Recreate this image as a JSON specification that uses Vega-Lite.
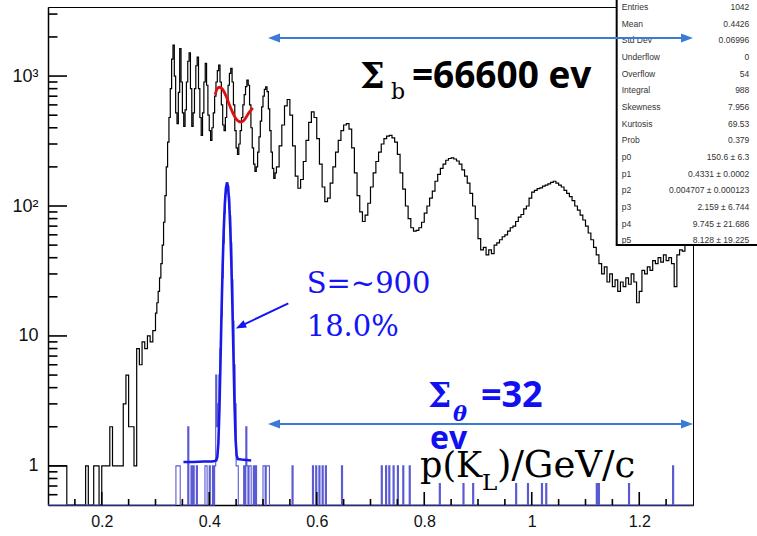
{
  "$schema": "https://vega.github.io/schema/vega-lite/v6.json",
  "width": 645,
  "height": 498,
  "autosize": {"type": "none"},
  "padding": {"left": 48, "top": 7, "right": 64, "bottom": 31},
  "background": "white",
  "config": {
    "view": {"stroke": "black", "strokeWidth": 1},
    "axis": {"grid": false, "title": null, "labelFont": "Liberation Sans", "labelFontSize": 16, "labelColor": "#111111", "tickColor": "black", "domainColor": "black"},
    "tick": {"color": "black", "opacity": 1, "thickness": 1.6}
  },
  "datasets": {
    "bkg": [
      {"x":0.100,"n":1},{"x":0.105,"n":1},{"x":0.110,"n":1},{"x":0.115,"n":1},{"x":0.120,"n":1},{"x":0.125,"n":1},{"x":0.130,"n":1},{"x":0.135,"n":0},
      {"x":0.170,"n":1},{"x":0.175,"n":0},{"x":0.185,"n":1},{"x":0.190,"n":1},{"x":0.195,"n":0},{"x":0.200,"n":1},{"x":0.205,"n":1},{"x":0.210,"n":1},
      {"x":0.215,"n":2},{"x":0.220,"n":1},{"x":0.225,"n":1},{"x":0.230,"n":1},{"x":0.235,"n":1},{"x":0.240,"n":3},{"x":0.245,"n":5},{"x":0.250,"n":2},
      {"x":0.255,"n":2},{"x":0.260,"n":1},{"x":0.265,"n":8},{"x":0.270,"n":6},{"x":0.275,"n":9},{"x":0.280,"n":8},{"x":0.285,"n":10},{"x":0.290,"n":9},{"x":0.295,"n":11},
      {"x":0.3000,"n":15},{"x":0.3025,"n":18},{"x":0.3050,"n":22},{"x":0.3075,"n":28},{"x":0.3100,"n":36},{"x":0.3125,"n":50},{"x":0.3150,"n":75},{"x":0.3175,"n":120},
      {"x":0.3200,"n":200},{"x":0.3225,"n":310},{"x":0.3250,"n":480},{"x":0.3275,"n":800},{"x":0.3300,"n":1350},{"x":0.3325,"n":1730},{"x":0.3350,"n":1000},{"x":0.3375,"n":520},
      {"x":0.3400,"n":430},{"x":0.3425,"n":750},{"x":0.3450,"n":1630},{"x":0.3475,"n":900},{"x":0.3500,"n":520},{"x":0.3525,"n":410},{"x":0.3550,"n":550},{"x":0.3575,"n":900},
      {"x":0.3600,"n":1300},{"x":0.3625,"n":1510},{"x":0.3650,"n":800},{"x":0.3675,"n":410},{"x":0.3700,"n":520},{"x":0.3725,"n":800},{"x":0.3750,"n":1200},{"x":0.3775,"n":1400},
      {"x":0.3800,"n":800},{"x":0.3825,"n":480},{"x":0.3850,"n":350},{"x":0.3875,"n":520},{"x":0.3900,"n":900},{"x":0.3925,"n":1250},{"x":0.3950,"n":850},{"x":0.3975,"n":500},
      {"x":0.4000,"n":380},{"x":0.4025,"n":320},{"x":0.4050,"n":400},{"x":0.4075,"n":520},{"x":0.4100,"n":700},{"x":0.4125,"n":900},{"x":0.4150,"n":1100},{"x":0.4175,"n":1215},
      {"x":0.4200,"n":900},{"x":0.4225,"n":600},{"x":0.4250,"n":420},{"x":0.4275,"n":380},{"x":0.4300,"n":480},{"x":0.4325,"n":650},{"x":0.4350,"n":850},{"x":0.4375,"n":1050},
      {"x":0.4400,"n":1146},{"x":0.4425,"n":900},{"x":0.4450,"n":600},{"x":0.4475,"n":380},{"x":0.4500,"n":280},{"x":0.4525,"n":250},{"x":0.4550,"n":300},{"x":0.4575,"n":380},
      {"x":0.4600,"n":480},{"x":0.4625,"n":600},{"x":0.4650,"n":720},{"x":0.4675,"n":830},{"x":0.4700,"n":930},{"x":0.4725,"n":850},{"x":0.4750,"n":600},{"x":0.4775,"n":400},
      {"x":0.4800,"n":280},{"x":0.4825,"n":210},{"x":0.4850,"n":185},{"x":0.4875,"n":200},{"x":0.4900,"n":260},{"x":0.4925,"n":340},{"x":0.4950,"n":450},{"x":0.4975,"n":580},
      {"x":0.5000,"n":700},{"x":0.5025,"n":790},{"x":0.5050,"n":825},{"x":0.5075,"n":760},{"x":0.5100,"n":560},{"x":0.5125,"n":380},{"x":0.5150,"n":260},{"x":0.5175,"n":195},
      {"x":0.5200,"n":163},{"x":0.5225,"n":180},
      {"x":0.525,"n":200},{"x":0.530,"n":290},{"x":0.535,"n":420},{"x":0.540,"n":590},{"x":0.545,"n":660},{"x":0.550,"n":500},{"x":0.555,"n":290},{"x":0.560,"n":170},
      {"x":0.565,"n":137},{"x":0.570,"n":160},{"x":0.575,"n":220},{"x":0.580,"n":320},{"x":0.585,"n":440},{"x":0.590,"n":530},{"x":0.595,"n":480},{"x":0.600,"n":330},
      {"x":0.605,"n":210},{"x":0.610,"n":140},{"x":0.615,"n":108},{"x":0.620,"n":115},{"x":0.625,"n":150},{"x":0.630,"n":200},{"x":0.635,"n":260},{"x":0.640,"n":320},
      {"x":0.645,"n":380},{"x":0.650,"n":420},{"x":0.655,"n":430},{"x":0.660,"n":390},{"x":0.665,"n":280},{"x":0.670,"n":180},{"x":0.675,"n":120},{"x":0.680,"n":90},
      {"x":0.685,"n":76},{"x":0.690,"n":85},{"x":0.695,"n":105},{"x":0.700,"n":140},{"x":0.705,"n":180},{"x":0.710,"n":220},{"x":0.715,"n":260},{"x":0.720,"n":300},
      {"x":0.725,"n":330},{"x":0.730,"n":345},{"x":0.735,"n":350},{"x":0.740,"n":335},{"x":0.745,"n":310},{"x":0.750,"n":250},{"x":0.755,"n":180},{"x":0.760,"n":135},
      {"x":0.765,"n":100},{"x":0.770,"n":80},{"x":0.775,"n":68},{"x":0.780,"n":64},{"x":0.785,"n":65},{"x":0.790,"n":68},{"x":0.795,"n":75},{"x":0.800,"n":88},
      {"x":0.805,"n":100},{"x":0.810,"n":115},{"x":0.815,"n":130},{"x":0.820,"n":155},{"x":0.825,"n":175},{"x":0.830,"n":195},{"x":0.835,"n":210},{"x":0.840,"n":225},
      {"x":0.845,"n":232},{"x":0.850,"n":235},{"x":0.855,"n":230},{"x":0.860,"n":222},{"x":0.865,"n":210},{"x":0.870,"n":190},{"x":0.875,"n":170},{"x":0.880,"n":150},
      {"x":0.885,"n":125},{"x":0.890,"n":100},{"x":0.895,"n":80},{"x":0.900,"n":56},{"x":0.905,"n":46},{"x":0.910,"n":48},{"x":0.915,"n":42},{"x":0.920,"n":46},
      {"x":0.925,"n":43},{"x":0.930,"n":50},{"x":0.935,"n":52},{"x":0.940,"n":55},{"x":0.945,"n":58},{"x":0.950,"n":60},{"x":0.955,"n":64},{"x":0.960,"n":68},
      {"x":0.965,"n":70},{"x":0.970,"n":76},{"x":0.975,"n":82},{"x":0.980,"n":86},{"x":0.985,"n":95},{"x":0.990,"n":100},{"x":0.995,"n":115},{"x":1.000,"n":128},
      {"x":1.005,"n":132},{"x":1.010,"n":136},{"x":1.015,"n":138},{"x":1.020,"n":142},{"x":1.025,"n":145},{"x":1.030,"n":148},{"x":1.035,"n":152},{"x":1.040,"n":155},
      {"x":1.045,"n":150},{"x":1.050,"n":145},{"x":1.055,"n":140},{"x":1.060,"n":132},{"x":1.065,"n":125},{"x":1.070,"n":118},{"x":1.075,"n":110},{"x":1.080,"n":100},
      {"x":1.085,"n":93},{"x":1.090,"n":85},{"x":1.095,"n":78},{"x":1.100,"n":70},{"x":1.105,"n":62},{"x":1.110,"n":55},{"x":1.115,"n":48},{"x":1.120,"n":42},
      {"x":1.125,"n":36},{"x":1.130,"n":30},{"x":1.135,"n":34},{"x":1.140,"n":26},{"x":1.145,"n":30},{"x":1.150,"n":24},{"x":1.155,"n":27},{"x":1.160,"n":22},
      {"x":1.165,"n":26},{"x":1.170,"n":24},{"x":1.175,"n":28},{"x":1.180,"n":25},{"x":1.185,"n":30},{"x":1.190,"n":26},{"x":1.195,"n":18},{"x":1.200,"n":22},
      {"x":1.205,"n":32},{"x":1.210,"n":30},{"x":1.215,"n":34},{"x":1.220,"n":32},{"x":1.225,"n":38},{"x":1.230,"n":36},{"x":1.235,"n":40},{"x":1.240,"n":37},
      {"x":1.245,"n":42},{"x":1.250,"n":38},{"x":1.255,"n":40},{"x":1.260,"n":36},{"x":1.265,"n":24},{"x":1.270,"n":42},{"x":1.275,"n":46},{"x":1.280,"n":45},
      {"x":1.285,"n":50},{"x":1.290,"n":55},{"x":1.295,"n":60},{"x":1.300,"n":60}
    ],
    "sig": [
      {"x":0.100,"n":0},{"x":0.338,"n":1},{"x":0.346,"n":0},{"x":0.360,"n":2},{"x":0.362,"n":0},{"x":0.366,"n":1},{"x":0.368,"n":0},{"x":0.370,"n":1},{"x":0.372,"n":0},
      {"x":0.376,"n":1},{"x":0.378,"n":0},{"x":0.392,"n":1},{"x":0.396,"n":0},{"x":0.400,"n":1},{"x":0.402,"n":0},{"x":0.406,"n":1},{"x":0.408,"n":0},{"x":0.410,"n":1},
      {"x":0.412,"n":5},{"x":0.414,"n":2},{"x":0.416,"n":3},{"x":0.418,"n":5},{"x":0.420,"n":8},{"x":0.422,"n":14},{"x":0.424,"n":28},{"x":0.426,"n":52},{"x":0.428,"n":88},
      {"x":0.430,"n":125},{"x":0.432,"n":150},{"x":0.434,"n":142},{"x":0.436,"n":118},{"x":0.438,"n":84},{"x":0.440,"n":52},{"x":0.442,"n":27},{"x":0.444,"n":13},{"x":0.446,"n":6},
      {"x":0.448,"n":3},{"x":0.450,"n":1},{"x":0.452,"n":1},{"x":0.454,"n":0},{"x":0.464,"n":1},{"x":0.466,"n":0},{"x":0.468,"n":2},{"x":0.470,"n":1},{"x":0.472,"n":0},
      {"x":0.474,"n":1},{"x":0.476,"n":1},{"x":0.478,"n":0},{"x":0.482,"n":1},{"x":0.484,"n":0},{"x":0.486,"n":1},{"x":0.488,"n":0},{"x":0.500,"n":1},{"x":0.502,"n":1},
      {"x":0.504,"n":0},{"x":0.506,"n":1},{"x":0.508,"n":1},{"x":0.510,"n":1},{"x":0.512,"n":0},{"x":0.554,"n":1},{"x":0.556,"n":0},{"x":0.592,"n":1},{"x":0.594,"n":0},
      {"x":0.598,"n":1},{"x":0.600,"n":0},{"x":0.604,"n":1},{"x":0.606,"n":0},{"x":0.610,"n":1},{"x":0.612,"n":0},{"x":0.616,"n":1},{"x":0.618,"n":0},{"x":0.646,"n":1},
      {"x":0.648,"n":0},{"x":0.720,"n":1},{"x":0.722,"n":0},{"x":0.728,"n":1},{"x":0.730,"n":0},{"x":0.734,"n":1},{"x":0.736,"n":0},{"x":0.742,"n":1},{"x":0.744,"n":0},
      {"x":0.750,"n":1},{"x":0.752,"n":0},{"x":0.760,"n":1},{"x":0.762,"n":0},{"x":0.772,"n":1},{"x":0.774,"n":0},{"x":0.828,"n":1},{"x":0.830,"n":0},{"x":0.872,"n":1},
      {"x":0.874,"n":0},{"x":0.890,"n":1},{"x":0.892,"n":0},{"x":0.970,"n":1},{"x":0.972,"n":0},{"x":0.992,"n":1},{"x":0.994,"n":0},{"x":1.018,"n":1},{"x":1.020,"n":0},
      {"x":1.026,"n":1},{"x":1.028,"n":0},{"x":1.120,"n":1},{"x":1.122,"n":0},{"x":1.124,"n":1},{"x":1.126,"n":0},{"x":1.180,"n":1},{"x":1.182,"n":0},{"x":1.262,"n":1},
      {"x":1.264,"n":0},{"x":1.300,"n":0}
    ],
    "sigfit": [
      {"x":0.352,"f":1.07},{"x":0.370,"f":1.07},{"x":0.390,"f":1.08},{"x":0.405,"f":1.08},{"x":0.410,"f":1.09},{"x":0.413,"f":1.1},{"x":0.415,"f":1.17},
      {"x":0.417,"f":1.5},{"x":0.419,"f":2.8},{"x":0.421,"f":6.6},{"x":0.423,"f":16.2},{"x":0.425,"f":35.4},{"x":0.427,"f":66},{"x":0.429,"f":104},
      {"x":0.431,"f":137},{"x":0.4331,"f":152},{"x":0.435,"f":140},{"x":0.437,"f":108},{"x":0.439,"f":70},{"x":0.441,"f":38},{"x":0.443,"f":17.6},
      {"x":0.445,"f":7.3},{"x":0.447,"f":3.0},{"x":0.449,"f":1.6},{"x":0.451,"f":1.2},{"x":0.453,"f":1.13},{"x":0.460,"f":1.12},{"x":0.478,"f":1.1}
    ],
    "bkgfit": [
      {"x":0.411,"f":720},{"x":0.415,"f":800},{"x":0.419,"f":820},{"x":0.423,"f":805},{"x":0.427,"f":765},{"x":0.431,"f":705},{"x":0.435,"f":640},
      {"x":0.439,"f":580},{"x":0.443,"f":530},{"x":0.447,"f":490},{"x":0.451,"f":462},{"x":0.455,"f":448},{"x":0.459,"f":444},{"x":0.463,"f":450},
      {"x":0.467,"f":470},{"x":0.471,"f":500},{"x":0.475,"f":530},{"x":0.479,"f":555},{"x":0.481,"f":568}
    ],
    "stats": [
      {"r":0,"k":"Entries","v":"1042"},{"r":1,"k":"Mean","v":"0.4426"},{"r":2,"k":"Std Dev","v":"0.06996"},{"r":3,"k":"Underflow","v":"0"},
      {"r":4,"k":"Overflow","v":"54"},{"r":5,"k":"Integral","v":"988"},{"r":6,"k":"Skewness","v":"7.956"},{"r":7,"k":"Kurtosis","v":"69.53"},
      {"r":8,"k":"Prob","v":"0.379"},{"r":9,"k":"p0","v":"150.6 ± 6.3"},{"r":10,"k":"p1","v":"0.4331 ± 0.0002"},{"r":11,"k":"p2","v":"0.004707 ± 0.000123"},
      {"r":12,"k":"p3","v":"2.159 ± 6.744"},{"r":13,"k":"p4","v":"9.745 ± 21.686"},{"r":14,"k":"p5","v":"8.128 ± 19.225"}
    ],
    "one": [{}]
  },
  "layer": [
    {
      "layer": [
        {
          "data": {"name": "bkg"},
          "mark": {"type": "line", "interpolate": "step-after", "color": "black", "strokeWidth": 1.2, "invalid": "show"},
          "encoding": {
            "x": {"field": "x", "type": "quantitative", "scale": {"domain": [0.1, 1.3], "nice": false, "zero": false},
                  "axis": {"orient": "bottom", "values": [0.2, 0.4, 0.6, 0.8, 1, 1.2], "ticks": false, "labelPadding": 8, "labelExpr": "format(datum.value, '~g')", "labelFlush": false, "labelOverlap": false, "domainWidth": 1.5}},
            "y": {"field": "n", "type": "quantitative", "scale": {"type": "log", "domain": [0.5, 3400], "nice": false, "clamp": true},
                  "axis": {"orient": "left", "values": [1, 10, 100, 1000], "ticks": false, "labelPadding": 10, "labelFontSize": 18, "labelExpr": "datum.value == 1000 ? '10³' : datum.value == 100 ? '10²' : datum.value == 10 ? '10' : '1'", "labelFlush": false, "labelOverlap": false, "domainWidth": 1.5}}
          }
        },
        {
          "data": {"name": "sig"},
          "mark": {"type": "line", "interpolate": "step-after", "color": "#5a5ad2", "strokeWidth": 1.1, "invalid": "show"},
          "encoding": {
            "x": {"field": "x", "type": "quantitative", "scale": {"domain": [0.1, 1.3], "nice": false, "zero": false}, "axis": null},
            "y": {"field": "n", "type": "quantitative", "scale": {"type": "log", "domain": [0.5, 3400], "nice": false, "clamp": true}, "axis": null}
          }
        },
        {
          "data": {"name": "sigfit"},
          "mark": {"type": "line", "color": "#1a1ae8", "strokeWidth": 2.6},
          "encoding": {
            "x": {"field": "x", "type": "quantitative", "scale": {"domain": [0.1, 1.3], "nice": false, "zero": false}, "axis": null},
            "y": {"field": "f", "type": "quantitative", "scale": {"type": "log", "domain": [0.5, 3400], "nice": false, "clamp": true}, "axis": null}
          }
        },
        {
          "data": {"name": "bkgfit"},
          "mark": {"type": "line", "interpolate": "monotone", "color": "#e01010", "strokeWidth": 2.8},
          "encoding": {
            "x": {"field": "x", "type": "quantitative", "scale": {"domain": [0.1, 1.3], "nice": false, "zero": false}, "axis": null},
            "y": {"field": "f", "type": "quantitative", "scale": {"type": "log", "domain": [0.5, 3400], "nice": false, "clamp": true}, "axis": null}
          }
        }
      ],
      "resolve": {"axis": {"x": "independent", "y": "independent"}}
    },
    {
      "layer": [
        {
          "data": {"name": "one"},
          "mark": {"type": "rect", "fill": "white", "stroke": "black", "strokeWidth": 2},
          "encoding": {
            "x": {"datum": 1.158, "type": "quantitative", "scale": {"domain": [0.1, 1.3], "nice": false, "zero": false}, "axis": null},
            "x2": {"datum": 1.48},
            "y": {"datum": -2, "type": "quantitative", "scale": {"domain": [0, 29.9], "reverse": true, "nice": false, "zero": false}, "axis": null},
            "y2": {"datum": 14.29}
          }
        },
        {
          "data": {"name": "stats"},
          "mark": {"type": "text", "align": "left", "baseline": "middle", "font": "Liberation Sans", "fontSize": 8.5, "color": "#333333"},
          "encoding": {
            "x": {"datum": 1.1674, "type": "quantitative", "scale": {"domain": [0.1, 1.3], "nice": false, "zero": false}, "axis": null},
            "y": {"field": "r", "type": "quantitative", "scale": {"domain": [0, 29.9], "reverse": true, "nice": false, "zero": false}, "axis": null},
            "text": {"field": "k"}
          }
        },
        {
          "data": {"name": "stats"},
          "mark": {"type": "text", "align": "right", "baseline": "middle", "font": "Liberation Sans", "fontSize": 8.5, "color": "#333333"},
          "encoding": {
            "x": {"datum": 1.4048, "type": "quantitative", "scale": {"domain": [0.1, 1.3], "nice": false, "zero": false}, "axis": null},
            "y": {"field": "r", "type": "quantitative", "scale": {"domain": [0, 29.9], "reverse": true, "nice": false, "zero": false}, "axis": null},
            "text": {"field": "v"}
          }
        }
      ]
    },
    {
      "data": {"name": "one"},
      "encoding": {
        "x": {"type": "quantitative", "scale": {"domain": [0.1, 1.3], "nice": false, "zero": false}, "axis": null},
        "y": {"type": "quantitative", "scale": {"type": "log", "domain": [0.5, 3400], "nice": false}, "axis": null}
      },
      "layer": [
        {"mark": {"type": "tick", "orient": "horizontal", "size": 19}, "encoding": {"x": {"datum": 0.1177}, "y": {"datum": 1}}},
        {"mark": {"type": "tick", "orient": "horizontal", "size": 19}, "encoding": {"x": {"datum": 0.1177}, "y": {"datum": 10}}},
        {"mark": {"type": "tick", "orient": "horizontal", "size": 19}, "encoding": {"x": {"datum": 0.1177}, "y": {"datum": 100}}},
        {"mark": {"type": "tick", "orient": "horizontal", "size": 19}, "encoding": {"x": {"datum": 0.1177}, "y": {"datum": 1000}}},
        {"mark": {"type": "tick", "orient": "horizontal", "size": 9.5}, "encoding": {"x": {"datum": 0.1088}, "y": {"datum": 0.6}}},
        {"mark": {"type": "tick", "orient": "horizontal", "size": 9.5}, "encoding": {"x": {"datum": 0.1088}, "y": {"datum": 0.7}}},
        {"mark": {"type": "tick", "orient": "horizontal", "size": 9.5}, "encoding": {"x": {"datum": 0.1088}, "y": {"datum": 0.8}}},
        {"mark": {"type": "tick", "orient": "horizontal", "size": 9.5}, "encoding": {"x": {"datum": 0.1088}, "y": {"datum": 0.9}}},
        {"mark": {"type": "tick", "orient": "horizontal", "size": 9.5}, "encoding": {"x": {"datum": 0.1088}, "y": {"datum": 2}}},
        {"mark": {"type": "tick", "orient": "horizontal", "size": 9.5}, "encoding": {"x": {"datum": 0.1088}, "y": {"datum": 3}}},
        {"mark": {"type": "tick", "orient": "horizontal", "size": 9.5}, "encoding": {"x": {"datum": 0.1088}, "y": {"datum": 4}}},
        {"mark": {"type": "tick", "orient": "horizontal", "size": 9.5}, "encoding": {"x": {"datum": 0.1088}, "y": {"datum": 5}}},
        {"mark": {"type": "tick", "orient": "horizontal", "size": 9.5}, "encoding": {"x": {"datum": 0.1088}, "y": {"datum": 6}}},
        {"mark": {"type": "tick", "orient": "horizontal", "size": 9.5}, "encoding": {"x": {"datum": 0.1088}, "y": {"datum": 7}}},
        {"mark": {"type": "tick", "orient": "horizontal", "size": 9.5}, "encoding": {"x": {"datum": 0.1088}, "y": {"datum": 8}}},
        {"mark": {"type": "tick", "orient": "horizontal", "size": 9.5}, "encoding": {"x": {"datum": 0.1088}, "y": {"datum": 9}}},
        {"mark": {"type": "tick", "orient": "horizontal", "size": 9.5}, "encoding": {"x": {"datum": 0.1088}, "y": {"datum": 20}}},
        {"mark": {"type": "tick", "orient": "horizontal", "size": 9.5}, "encoding": {"x": {"datum": 0.1088}, "y": {"datum": 30}}},
        {"mark": {"type": "tick", "orient": "horizontal", "size": 9.5}, "encoding": {"x": {"datum": 0.1088}, "y": {"datum": 40}}},
        {"mark": {"type": "tick", "orient": "horizontal", "size": 9.5}, "encoding": {"x": {"datum": 0.1088}, "y": {"datum": 50}}},
        {"mark": {"type": "tick", "orient": "horizontal", "size": 9.5}, "encoding": {"x": {"datum": 0.1088}, "y": {"datum": 60}}},
        {"mark": {"type": "tick", "orient": "horizontal", "size": 9.5}, "encoding": {"x": {"datum": 0.1088}, "y": {"datum": 70}}},
        {"mark": {"type": "tick", "orient": "horizontal", "size": 9.5}, "encoding": {"x": {"datum": 0.1088}, "y": {"datum": 80}}},
        {"mark": {"type": "tick", "orient": "horizontal", "size": 9.5}, "encoding": {"x": {"datum": 0.1088}, "y": {"datum": 90}}},
        {"mark": {"type": "tick", "orient": "horizontal", "size": 9.5}, "encoding": {"x": {"datum": 0.1088}, "y": {"datum": 200}}},
        {"mark": {"type": "tick", "orient": "horizontal", "size": 9.5}, "encoding": {"x": {"datum": 0.1088}, "y": {"datum": 300}}},
        {"mark": {"type": "tick", "orient": "horizontal", "size": 9.5}, "encoding": {"x": {"datum": 0.1088}, "y": {"datum": 400}}},
        {"mark": {"type": "tick", "orient": "horizontal", "size": 9.5}, "encoding": {"x": {"datum": 0.1088}, "y": {"datum": 500}}},
        {"mark": {"type": "tick", "orient": "horizontal", "size": 9.5}, "encoding": {"x": {"datum": 0.1088}, "y": {"datum": 600}}},
        {"mark": {"type": "tick", "orient": "horizontal", "size": 9.5}, "encoding": {"x": {"datum": 0.1088}, "y": {"datum": 700}}},
        {"mark": {"type": "tick", "orient": "horizontal", "size": 9.5}, "encoding": {"x": {"datum": 0.1088}, "y": {"datum": 800}}},
        {"mark": {"type": "tick", "orient": "horizontal", "size": 9.5}, "encoding": {"x": {"datum": 0.1088}, "y": {"datum": 900}}},
        {"mark": {"type": "tick", "orient": "horizontal", "size": 9.5}, "encoding": {"x": {"datum": 0.1088}, "y": {"datum": 2000}}},
        {"mark": {"type": "tick", "orient": "horizontal", "size": 9.5}, "encoding": {"x": {"datum": 0.1088}, "y": {"datum": 3000}}},
        {"mark": {"type": "tick", "orient": "vertical", "size": 13}, "encoding": {"x": {"datum": 0.2}, "y": {"datum": 0.561}}},
        {"mark": {"type": "tick", "orient": "vertical", "size": 13}, "encoding": {"x": {"datum": 0.4}, "y": {"datum": 0.561}}},
        {"mark": {"type": "tick", "orient": "vertical", "size": 13}, "encoding": {"x": {"datum": 0.6}, "y": {"datum": 0.561}}},
        {"mark": {"type": "tick", "orient": "vertical", "size": 13}, "encoding": {"x": {"datum": 0.8}, "y": {"datum": 0.561}}},
        {"mark": {"type": "tick", "orient": "vertical", "size": 13}, "encoding": {"x": {"datum": 1.0}, "y": {"datum": 0.561}}},
        {"mark": {"type": "tick", "orient": "vertical", "size": 13}, "encoding": {"x": {"datum": 1.2}, "y": {"datum": 0.561}}},
        {"mark": {"type": "tick", "orient": "vertical", "size": 6}, "encoding": {"x": {"datum": 0.15}, "y": {"datum": 0.527}}},
        {"mark": {"type": "tick", "orient": "vertical", "size": 6}, "encoding": {"x": {"datum": 0.25}, "y": {"datum": 0.527}}},
        {"mark": {"type": "tick", "orient": "vertical", "size": 6}, "encoding": {"x": {"datum": 0.3}, "y": {"datum": 0.527}}},
        {"mark": {"type": "tick", "orient": "vertical", "size": 6}, "encoding": {"x": {"datum": 0.35}, "y": {"datum": 0.527}}},
        {"mark": {"type": "tick", "orient": "vertical", "size": 6}, "encoding": {"x": {"datum": 0.45}, "y": {"datum": 0.527}}},
        {"mark": {"type": "tick", "orient": "vertical", "size": 6}, "encoding": {"x": {"datum": 0.5}, "y": {"datum": 0.527}}},
        {"mark": {"type": "tick", "orient": "vertical", "size": 6}, "encoding": {"x": {"datum": 0.55}, "y": {"datum": 0.527}}},
        {"mark": {"type": "tick", "orient": "vertical", "size": 6}, "encoding": {"x": {"datum": 0.65}, "y": {"datum": 0.527}}},
        {"mark": {"type": "tick", "orient": "vertical", "size": 6}, "encoding": {"x": {"datum": 0.7}, "y": {"datum": 0.527}}},
        {"mark": {"type": "tick", "orient": "vertical", "size": 6}, "encoding": {"x": {"datum": 0.75}, "y": {"datum": 0.527}}},
        {"mark": {"type": "tick", "orient": "vertical", "size": 6}, "encoding": {"x": {"datum": 0.85}, "y": {"datum": 0.527}}},
        {"mark": {"type": "tick", "orient": "vertical", "size": 6}, "encoding": {"x": {"datum": 0.9}, "y": {"datum": 0.527}}},
        {"mark": {"type": "tick", "orient": "vertical", "size": 6}, "encoding": {"x": {"datum": 0.95}, "y": {"datum": 0.527}}},
        {"mark": {"type": "tick", "orient": "vertical", "size": 6}, "encoding": {"x": {"datum": 1.05}, "y": {"datum": 0.527}}},
        {"mark": {"type": "tick", "orient": "vertical", "size": 6}, "encoding": {"x": {"datum": 1.1}, "y": {"datum": 0.527}}},
        {"mark": {"type": "tick", "orient": "vertical", "size": 6}, "encoding": {"x": {"datum": 1.15}, "y": {"datum": 0.527}}},
        {"mark": {"type": "tick", "orient": "vertical", "size": 6}, "encoding": {"x": {"datum": 1.25}, "y": {"datum": 0.527}}},
        {"mark": {"type": "rect", "fill": "white"},
         "encoding": {"x": {"datum": 0.792}, "x2": {"datum": 1.215}, "y": {"datum": 0.74}, "y2": {"datum": 1.2}}},
        {"mark": {"type": "text", "text": "p(K", "align": "left", "baseline": "alphabetic", "font": "DejaVu Serif", "fontSize": 35, "color": "black"},
         "encoding": {"x": {"datum": 0.7921}, "y": {"datum": 0.823}}},
        {"mark": {"type": "text", "text": "L", "align": "left", "baseline": "alphabetic", "font": "DejaVu Serif", "fontSize": 23, "color": "black"},
         "encoding": {"x": {"datum": 0.9074}, "y": {"datum": 0.654}}},
        {"mark": {"type": "text", "text": ")/GeV/c", "align": "left", "baseline": "alphabetic", "font": "DejaVu Serif", "fontSize": 37, "color": "black"},
         "encoding": {"x": {"datum": 0.9353}, "y": {"datum": 0.823}}},
        {"mark": {"type": "text", "text": "S=~900", "align": "left", "baseline": "alphabetic", "font": "DejaVu Serif", "fontSize": 29, "color": "#1414f5"},
         "encoding": {"x": {"datum": 0.5813}, "y": {"datum": 21.3}}},
        {"mark": {"type": "text", "text": "18.0%", "align": "left", "baseline": "alphabetic", "font": "DejaVu Serif", "fontSize": 29, "color": "#1414f5"},
         "encoding": {"x": {"datum": 0.5813}, "y": {"datum": 10}}},
        {"mark": {"type": "text", "text": "Σ", "align": "left", "baseline": "alphabetic", "font": "DejaVu Serif", "fontWeight": "bold", "fontSize": 35, "color": "black"},
         "encoding": {"x": {"datum": 0.6805}, "y": {"datum": 809}}},
        {"mark": {"type": "text", "text": "b", "align": "left", "baseline": "alphabetic", "font": "DejaVu Serif", "fontSize": 22, "color": "black"},
         "encoding": {"x": {"datum": 0.7381}, "y": {"datum": 670}}},
        {"mark": {"type": "text", "text": "=66600 ev", "align": "left", "baseline": "alphabetic", "font": "Open Sans", "fontWeight": "bold", "fontSize": 37, "color": "black"},
         "encoding": {"x": {"datum": 0.777}, "y": {"datum": 809}}},
        {"mark": {"type": "text", "text": "Σ", "align": "left", "baseline": "alphabetic", "font": "DejaVu Serif", "fontWeight": "bold", "fontSize": 33, "color": "#1010f0"},
         "encoding": {"x": {"datum": 0.807}, "y": {"datum": 2.84}}},
        {"mark": {"type": "text", "text": "θ", "align": "left", "baseline": "alphabetic", "font": "DejaVu Serif", "fontWeight": "bold", "fontStyle": "italic", "fontSize": 21, "color": "#1010f0"},
         "encoding": {"x": {"datum": 0.8535}, "y": {"datum": 2.22}}},
        {"mark": {"type": "text", "text": "=32", "align": "left", "baseline": "alphabetic", "font": "Open Sans", "fontWeight": "bold", "fontSize": 36, "color": "#1010f0"},
         "encoding": {"x": {"datum": 0.9055}, "y": {"datum": 2.84}}},
        {"mark": {"type": "text", "text": "ev", "align": "left", "baseline": "alphabetic", "font": "Open Sans", "fontWeight": "bold", "fontSize": 32, "color": "#1010f0"},
         "encoding": {"x": {"datum": 0.8107}, "y": {"datum": 1.35}}},
        {"mark": {"type": "rule", "color": "#3b7ad6", "strokeWidth": 2},
         "encoding": {"x": {"datum": 0.5205}, "x2": {"datum": 1.2888}, "y": {"datum": 1960}}},
        {"mark": {"type": "point", "shape": "M1,0L-1,-0.75L-1,0.75Z", "angle": 180, "filled": true, "opacity": 1, "size": 144, "color": "#3b7ad6"},
         "encoding": {"x": {"datum": 0.5205}, "y": {"datum": 1960}}},
        {"mark": {"type": "point", "shape": "M1,0L-1,-0.75L-1,0.75Z", "angle": 0, "filled": true, "opacity": 1, "size": 144, "color": "#3b7ad6"},
         "encoding": {"x": {"datum": 1.2888}, "y": {"datum": 1960}}},
        {"mark": {"type": "rule", "color": "#3b7ad6", "strokeWidth": 2},
         "encoding": {"x": {"datum": 0.5205}, "x2": {"datum": 1.2888}, "y": {"datum": 2.104}}},
        {"mark": {"type": "point", "shape": "M1,0L-1,-0.75L-1,0.75Z", "angle": 180, "filled": true, "opacity": 1, "size": 144, "color": "#3b7ad6"},
         "encoding": {"x": {"datum": 0.5205}, "y": {"datum": 2.104}}},
        {"mark": {"type": "point", "shape": "M1,0L-1,-0.75L-1,0.75Z", "angle": 0, "filled": true, "opacity": 1, "size": 144, "color": "#3b7ad6"},
         "encoding": {"x": {"datum": 1.2888}, "y": {"datum": 2.104}}},
        {"mark": {"type": "rule", "color": "#1414f5", "strokeWidth": 2},
         "encoding": {"x": {"datum": 0.5471}, "x2": {"datum": 0.4581}, "y": {"datum": 17.8}, "y2": {"datum": 11.9}}},
        {"mark": {"type": "point", "shape": "M1,0L-1,-0.75L-1,0.75Z", "angle": 154.5, "filled": true, "opacity": 1, "size": 110, "color": "#1414f5"},
         "encoding": {"x": {"datum": 0.4581}, "y": {"datum": 11.9}}}
      ]
    }
  ],
  "resolve": {"scale": {"y": "independent"}, "axis": {"x": "independent", "y": "independent"}}
}
